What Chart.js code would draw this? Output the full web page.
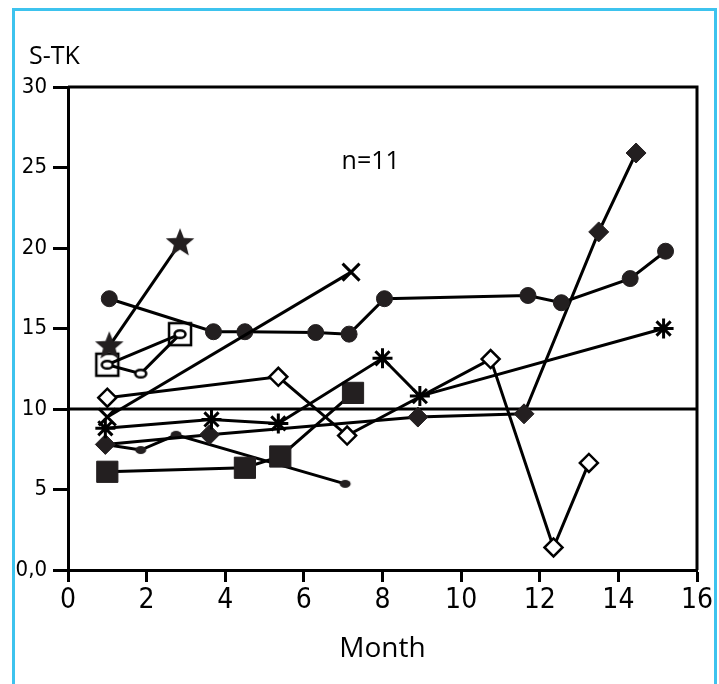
<!DOCTYPE html>
<html>
<head>
<meta charset="utf-8">
<script src="https://cdn.jsdelivr.net/npm/chart.js@4.4.1/dist/chart.umd.min.js"></script>
<style>
  body { margin: 0; background: #fff; overflow: hidden; }
  canvas { display: block; }
</style>
</head>
<body>
<canvas id="myChart" width="719" height="684"></canvas>
<script>
// values (month, S-TK)
var starMonth = [1.05, 2.85];
var starValue = [13.9, 20.3];
var openSquareMonth = [1.0, 2.85];
var openSquareValue = [12.75, 14.65];
var ellipseMonth = [1.0, 1.85, 2.85];
var ellipseValue = [12.75, 12.2, 14.65];
var circleMonth = [1.05, 3.7, 4.5, 6.3, 7.15, 8.05, 11.7, 12.55, 14.3, 15.2];
var circleValue = [16.85, 14.8, 14.8, 14.75, 14.65, 16.85, 17.05, 16.6, 18.1, 19.8];
var crossMonth = [1.0, 7.2];
var crossValue = [9.5, 18.5];
var asteriskMonth = [0.95, 3.65, 5.35, 8.0, 8.95, 15.15];
var asteriskValue = [8.8, 9.35, 9.1, 13.15, 10.8, 15.0];
var diamondMonth = [0.95, 3.6, 8.9, 11.6, 13.5, 14.45];
var diamondValue = [7.8, 8.4, 9.5, 9.7, 21.0, 25.9];
var dotMonth = [0.95, 1.85, 2.75, 7.05];
var dotValue = [7.8, 7.45, 8.4, 5.35];
var openDiamondMonth = [1.0, 5.35, 7.1, 10.75, 12.35, 13.25];
var openDiamondValue = [10.7, 12.0, 8.35, 13.1, 1.4, 6.65];
var squareMonth = [1.0, 4.5, 5.4, 7.25];
var squareValue = [6.1, 6.35, 7.05, 11.0];
var limitMonth = [0, 16];
var limitValue = [10, 10];

var ink = '#231f20';
var tickFont = "'Liberation Sans Narrow', 'DejaVu Sans Condensed', sans-serif";
var textFont = "'Open Sans', 'Noto Sans', sans-serif";

function pts(xs, ys) {
    return xs.map(function (x, i) { return { x: x, y: ys[i] }; });
}

function makeMarker(size, draw) {
    var c = document.createElement('canvas');
    c.width = size;
    c.height = size;
    draw(c.getContext('2d'), size / 2);
    return c;
}

var starMarker = makeMarker(34, function (g, m) {
    g.beginPath();
    for (var i = 0; i < 10; i++) {
        var r = i % 2 ? 6.5 : 15;
        var a = -Math.PI / 2 + i * Math.PI / 5;
        g.lineTo(m + r * Math.cos(a), m + r * Math.sin(a));
    }
    g.closePath();
    g.fillStyle = ink;
    g.fill();
});
var squareMarker = makeMarker(28, function (g, m) {
    g.lineWidth = 2.5;
    g.strokeStyle = '#000';
    g.strokeRect(m - 11, m - 11, 22, 22);
});
var ellipseMarker = makeMarker(16, function (g, m) {
    g.beginPath();
    g.ellipse(m, m, 5.5, 3.8, 0, 0, Math.PI * 2);
    g.fillStyle = '#fff';
    g.fill();
    g.lineWidth = 2.5;
    g.strokeStyle = '#000';
    g.stroke();
});
var dotMarker = makeMarker(16, function (g, m) {
    g.beginPath();
    g.ellipse(m, m, 5.5, 4, 0, 0, Math.PI * 2);
    g.fillStyle = ink;
    g.fill();
});

function series(xs, ys, style, extra) {
    var d = {
        data: pts(xs, ys),
        showLine: true,
        borderColor: '#000',
        borderWidth: 3,
        pointStyle: style,
        pointBackgroundColor: ink,
        pointBorderColor: ink,
        pointBorderWidth: 1,
        pointRadius: 8,
        pointHoverRadius: 8
    };
    for (var k in extra) d[k] = extra[k];
    return d;
}

var datasets = [
    series(openDiamondMonth, openDiamondValue, 'rectRot', { pointBackgroundColor: '#fff', pointBorderColor: '#000', pointBorderWidth: 2.5, pointRadius: 9, pointHoverRadius: 9 }),
    series(starMonth, starValue, starMarker),
    series(ellipseMonth, ellipseValue, ellipseMarker),
    series(openSquareMonth, openSquareValue, squareMarker),
    series(crossMonth, crossValue, 'crossRot', { pointBorderColor: '#000', pointBorderWidth: 3, pointRadius: 12, pointHoverRadius: 12 }),
    series(asteriskMonth, asteriskValue, 'star', { pointBorderColor: '#000', pointBorderWidth: 3, pointRadius: 10, pointHoverRadius: 10 }),
    series(circleMonth, circleValue, 'circle', { pointRadius: 8, pointHoverRadius: 8 }),
    series(diamondMonth, diamondValue, 'rectRot', { pointRadius: 10, pointHoverRadius: 10 }),
    series(squareMonth, squareValue, 'rect', { pointRadius: 15, pointHoverRadius: 15 }),
    series(dotMonth, dotValue, dotMarker),
    { data: pts(limitMonth, limitValue), showLine: true, borderColor: '#000', borderWidth: 3, pointRadius: 0, pointHoverRadius: 0 }
];

var frame = {
    id: 'frame',
    beforeDraw: function (chart) {
        var c = chart.ctx;
        c.save();
        c.strokeStyle = '#3dc3ee';
        c.lineWidth = 3;
        c.strokeRect(13.5, 9.5, 702, 700);
        c.restore();
    },
    afterDatasetsDraw: function (chart) {
        var c = chart.ctx, a = chart.chartArea;
        var sx = chart.scales.x, sy = chart.scales.y;
        c.save();
        c.strokeStyle = '#000';
        c.lineWidth = 3;
        c.beginPath();
        c.moveTo(a.left, a.top);
        c.lineTo(a.right, a.top);
        c.lineTo(a.right, a.bottom);
        c.stroke();
        c.fillStyle = '#000';
        c.font = '25px ' + textFont;
        c.textBaseline = 'alphabetic';
        c.textAlign = 'left';
        c.fillText('S-TK', 29, 64);
        c.textAlign = 'center';
        c.font = '25px ' + textFont;
        c.fillText('n=11', sx.getPixelForValue(7.7), sy.getPixelForValue(24.9));
        c.restore();
    }
};

var ctx = document.getElementById('myChart').getContext('2d');
var myChart = new Chart(ctx, {
    type: 'scatter',
    data: { datasets: datasets },
    options: {
        responsive: false,
        animation: false,
        layout: { padding: { top: 87, right: 22, left: 0, bottom: 0 } },
        plugins: { legend: { display: false }, tooltip: { enabled: false } },
        scales: {
            x: {
                type: 'linear', min: 0, max: 16,
                ticks: { stepSize: 2, color: '#000', padding: 2, font: { family: tickFont, size: 28 } },
                grid: { drawOnChartArea: false, drawTicks: true, tickLength: 12, tickWidth: 3, tickColor: '#000' },
                border: { color: '#000', width: 3 },
                title: { display: true, text: 'Month', color: '#000', font: { family: textFont, size: 28 }, padding: { top: 0, bottom: 18 } },
                afterFit: function (s) { s.height = 114; }
            },
            y: {
                min: 0, max: 30,
                ticks: {
                    stepSize: 5, color: '#000', padding: 6, font: { family: tickFont, size: 22 },
                    callback: function (v) { return v === 0 ? '0,0' : v; }
                },
                grid: { drawOnChartArea: false, drawTicks: true, tickLength: 15, tickWidth: 3, tickColor: '#000' },
                border: { color: '#000', width: 3 },
                afterFit: function (s) { s.width = 68; }
            }
        }
    },
    plugins: [frame]
});
</script>
</body>
</html>
